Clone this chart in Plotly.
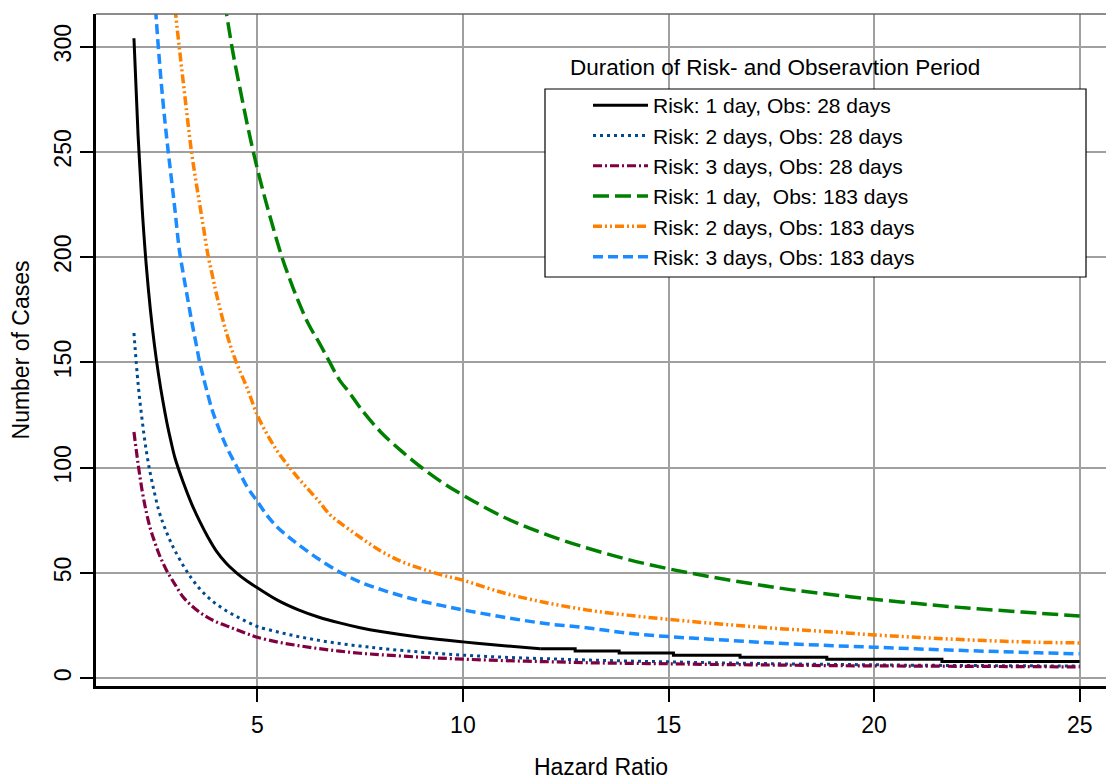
import plotly.graph_objects as go

# ---------------- data ----------------
hr_r1_o28 = [2.0, 2.1, 2.2, 2.3, 2.4, 2.5, 2.6, 2.7, 2.8, 2.9, 3.0, 3.2, 3.4, 3.6, 3.8, 4.0,
             4.25, 4.5, 4.75, 5.0, 5.5, 6.0, 6.5, 7.0, 7.5, 8.0, 9.0, 10.0, 11.0, 11.88,
             12.73, 12.73, 13.8, 13.8, 15.12, 15.12, 16.74, 16.74, 18.85, 18.85, 21.65, 21.65, 25.0]
n_r1_o28 = [304, 258, 223, 196, 175, 158, 144, 132, 121.5, 112.5, 104.5, 93, 83, 74.5, 67, 60.5,
            54.5, 50, 46.2, 43, 37, 32.5, 29, 26.3, 24, 22.2, 19.4, 17.3, 15.5, 14,
            14, 13, 13, 12, 12, 11, 11, 10, 10, 9, 9, 8, 8]
step_start = 29  # from here on the black curve moves in whole-case steps

hr_28 = [2.0, 2.1, 2.2, 2.3, 2.4, 2.5, 2.6, 2.7, 2.8, 2.9, 3.0, 3.2, 3.4, 3.6, 3.8, 4.0,
         4.25, 4.5, 4.75, 5.0, 5.5, 6.0, 6.5, 7.0, 7.5, 8.0, 9.0, 10.0, 11, 12, 13, 14,
         15, 16, 17, 18, 19, 20, 21, 22, 23, 24, 25]
n_r2_o28 = [164, 140, 122.5, 108, 97, 88, 80, 74, 69, 64.5, 60.5, 53.5, 47.5, 42.5, 38.5, 35.3,
            32, 29.3, 26.8, 24.6, 22.0, 19.8, 18.0, 16.5, 15.3, 14.2, 12.4, 11.0, 10.0, 9.3, 8.7, 8.2,
            7.8, 7.4, 7.1, 6.8, 6.6, 6.4, 6.2, 6.1, 6.0, 5.9, 5.8]
n_r3_o28 = [117, 102, 89, 79, 71, 65, 59.5, 55, 51, 47.7, 44.5, 38.5, 34.5, 31.3, 28.8, 26.8,
            24.9, 23.0, 21.2, 19.5, 17.2, 15.5, 14.1, 12.9, 11.9, 11.2, 10.0, 9.1, 8.4, 7.9, 7.4, 7.1,
            6.9, 6.6, 6.4, 6.2, 6.0, 5.9, 5.8, 5.7, 5.6, 5.5, 5.4]

hr_r1_o183 = [4.2, 4.4, 4.6, 4.8, 5.0, 5.2, 5.4, 5.6, 5.8, 6.0, 6.25, 6.5, 6.75, 7.0, 7.25, 7.5,
              8.0, 8.5, 9.0, 9.5, 10, 11, 12, 13, 14, 15, 16, 17, 18, 19, 20, 21, 22, 23, 24, 25]
n_r1_o183 = [322, 298, 278, 259, 242, 227, 213, 200, 189, 179, 168, 159.5, 150.5, 141.6, 135.4, 128.5,
             117, 108, 100, 93, 87, 76.5, 68.5, 62, 56.5, 52, 48.3, 45, 42, 39.7, 37.5, 35.6, 33.8, 32.3, 30.9, 29.6]

hr_r2_o183 = [3.0, 3.1, 3.2, 3.3, 3.4, 3.5, 3.6, 3.7, 3.8, 3.9, 4.0, 4.25, 4.5, 4.75, 5.0, 5.25,
              5.5, 5.75, 6.0, 6.25, 6.5, 6.75, 7.0, 7.5, 8.0, 8.5, 9.0, 9.5, 10, 11, 12, 13, 14,
              15, 16, 17, 18, 19, 20, 21, 22, 23, 24, 25]
n_r2_o183 = [318, 300, 283, 266, 250, 237, 225, 213, 201, 192, 183, 164, 149.5, 138, 125, 115.5,
             107.5, 101, 95, 89.5, 84, 78, 74, 67, 60.5, 55.5, 52, 49, 46.6, 40.5, 36, 32.5, 30,
             28, 26.2, 24.6, 23.2, 22.0, 20.6, 19.5, 18.5, 17.7, 17.1, 16.8]

hr_r3_o183 = [2.5, 2.6, 2.7, 2.8, 2.9, 3.0, 3.1, 3.2, 3.3, 3.4, 3.5, 3.6, 3.7, 3.8, 3.9, 4.0,
              4.25, 4.5, 4.75, 5.0, 5.25, 5.5, 5.75, 6.0, 6.5, 7.0, 7.5, 8.0, 8.5, 9.0, 9.5, 10,
              11, 12, 13, 14, 15, 16, 17, 18, 19, 20, 21, 22, 23, 24, 25]
n_r3_o183 = [325, 298, 275, 256, 239, 222, 204, 192, 181, 170, 160, 150, 142, 134.5, 127.5, 122,
             110, 100.5, 91, 84, 77, 71.5, 67.3, 63.5, 56.5, 50.5, 45.7, 42.2, 39.2, 36.6, 34.5, 32.5,
             29, 26, 24, 21.5, 19.8, 18.6, 17.4, 16.3, 15.5, 14.8, 14.0, 13.3, 12.7, 12.1, 11.6]

series_names = ["Risk: 1 day, Obs: 28 days",
                "Risk: 2 days, Obs: 28 days",
                "Risk: 3 days, Obs: 28 days",
                "Risk: 1 day,  Obs: 183 days",
                "Risk: 2 days, Obs: 183 days",
                "Risk: 3 days, Obs: 183 days"]

x_ticks = [5, 10, 15, 20, 25]
y_ticks = [0, 50, 100, 150, 200, 250, 300]

FONT = "Liberation Sans, Arial, Helvetica, sans-serif"

fig = go.Figure()
fig.add_trace(go.Scatter(x=hr_r1_o28[:step_start + 1], y=n_r1_o28[:step_start + 1], mode="lines",
                         name=series_names[0],
                         line=dict(color="#000000", width=3, shape="spline")))
fig.add_trace(go.Scatter(x=hr_r1_o28[step_start:], y=n_r1_o28[step_start:], mode="lines",
                         name=series_names[0], showlegend=False,
                         line=dict(color="#000000", width=3, shape="linear")))
fig.add_trace(go.Scatter(x=hr_28, y=n_r2_o28, mode="lines", name=series_names[1], line_shape="spline",
                         line=dict(color="#004a8f", width=3, dash="3px,4px")))
fig.add_trace(go.Scatter(x=hr_28, y=n_r3_o28, mode="lines", name=series_names[2], line_shape="spline",
                         line=dict(color="#800040", width=3.2, dash="9px,3px,2px,3px")))
fig.add_trace(go.Scatter(x=hr_r1_o183, y=n_r1_o183, mode="lines", name=series_names[3], line_shape="spline",
                         line=dict(color="#008000", width=3.5, dash="16px,6px")))
fig.add_trace(go.Scatter(x=hr_r2_o183, y=n_r2_o183, mode="lines", name=series_names[4], line_shape="spline",
                         line=dict(color="#ff8000", width=3.5, dash="9px,3px,2px,3px,2px,3px")))
fig.add_trace(go.Scatter(x=hr_r3_o183, y=n_r3_o183, mode="lines", name=series_names[5], line_shape="spline",
                         line=dict(color="#1a8cff", width=3.5, dash="10px,5px")))

L, R, T, B = 96, 0, 14, 94
W, H = 1106, 780
pw, ph = W - L - R, H - T - B


def px_x(p):
    return (p - L) / pw


def px_y(p):
    return (H - B - p) / ph


fig.update_layout(
    width=W, height=H,
    margin=dict(l=L, r=R, t=T, b=B, pad=0),
    paper_bgcolor="white", plot_bgcolor="white",
    font=dict(family=FONT, size=23, color="black"),
    showlegend=True,
    legend=dict(x=px_x(588), xanchor="left", y=px_y(181), yanchor="middle",
                bgcolor="rgba(0,0,0,0)", borderwidth=0, itemwidth=55, tracegroupgap=0,
                font=dict(family=FONT, size=21, color="black")),
    xaxis=dict(range=[1.077, 25.64], tickvals=x_ticks, showgrid=True, gridcolor="#a0a0a0", gridwidth=1.5,
               zeroline=False, showline=True, linecolor="black", linewidth=2.5,
               ticks="outside", ticklen=13, tickwidth=1.5, tickcolor="black",
               tickfont=dict(size=23), ticklabelstandoff=4,
               title=dict(text="Hazard Ratio", font=dict(size=23), standoff=26)),
    yaxis=dict(range=[-3.66, 315.5], tickvals=y_ticks, showgrid=True, gridcolor="#a0a0a0", gridwidth=1.5,
               zeroline=False, showline=True, linecolor="black", linewidth=2.5,
               ticks="outside", ticklen=13, tickwidth=1.5, tickcolor="black",
               tickangle=-90, tickfont=dict(size=23),
               title=dict(text="Number of Cases", font=dict(size=23), standoff=14)),
    shapes=[
        dict(type="line", xref="paper", yref="paper", x0=0, x1=1, y0=1, y1=1,
             line=dict(color="#666666", width=1.5), layer="above"),
        dict(type="rect", xref="paper", yref="paper",
             x0=px_x(545), x1=px_x(1086), y0=px_y(277), y1=px_y(89),
             line=dict(color="black", width=1.2), fillcolor="white", layer="above"),
    ],
    annotations=[
        dict(text="Duration of Risk- and Obseravtion Period", xref="paper", yref="paper",
             x=px_x(775), y=px_y(67), xanchor="center", yanchor="middle", showarrow=False,
             font=dict(family=FONT, size=22.5, color="black")),
    ],
)

fig.write_html("out.html")
